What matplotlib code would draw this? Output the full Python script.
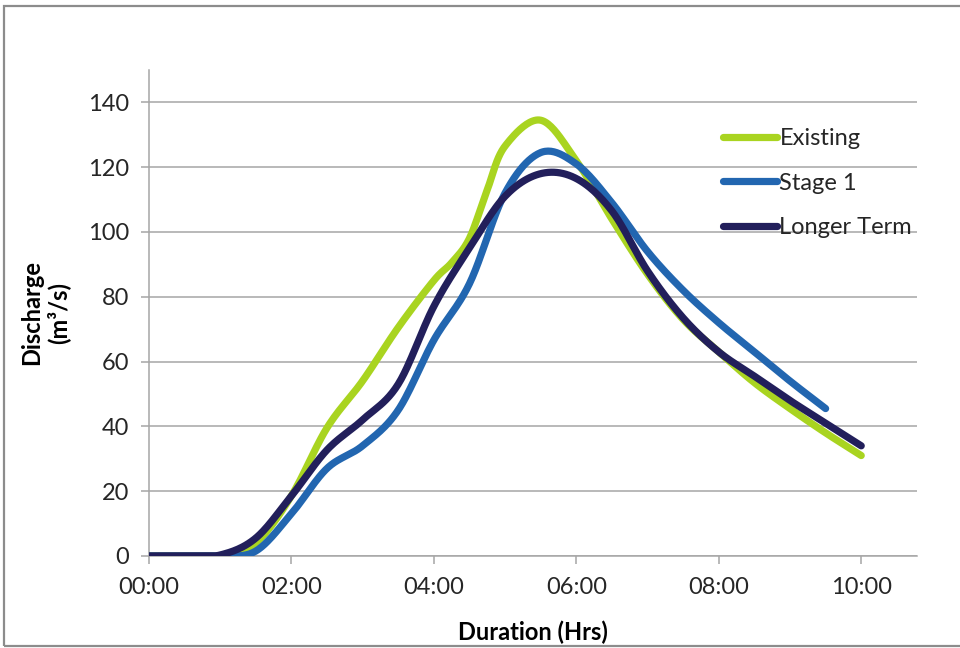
import numpy as np
import matplotlib
matplotlib.use("Agg")
import matplotlib.pyplot as plt
from matplotlib.patches import Rectangle
from matplotlib.ticker import FuncFormatter

# Hydrograph ordinates (time in hours, discharge in m3/s)
existing_t = [0.0, 0.5, 1.0, 1.5, 2.0, 2.5, 3.0, 3.5, 4.0, 4.25, 4.5, 4.75, 5.0,
              5.5, 6.0, 6.5, 7.0, 7.5, 8.0, 8.5, 9.0, 9.5, 10.0]
existing_q = [0, 0, 0, 4, 18.5, 39.5, 54, 70.5, 85, 90.5, 98, 113, 126.5,
              134.5, 122, 104, 87, 73, 63, 53.5, 45.5, 38, 31]

stage1_t = [0.0, 0.5, 1.0, 1.5, 2.0, 2.5, 3.0, 3.5, 4.0, 4.5, 5.0, 5.5, 6.0,
            6.5, 7.0, 7.5, 8.0, 8.5, 9.0, 9.5]
stage1_q = [0, 0, 0, 1.5, 13, 27, 34, 45, 66.6, 84, 112, 124.5, 121,
            109, 94, 82, 72, 63, 54, 45.5]

longer_t = [0.0, 0.5, 1.0, 1.5, 2.0, 2.5, 3.0, 3.5, 4.0, 4.5, 5.0, 5.5, 6.0,
            6.5, 7.0, 7.5, 8.0, 8.5, 9.0, 9.5, 10.0]
longer_q = [0, 0, 0.3, 5.5, 18.5, 32.7, 42, 53, 77, 95, 111, 118, 116.5,
            106.5, 88, 73.5, 63, 55.5, 48, 41, 34]

series_names = ["Existing", "Stage 1", "Longer Term"]
series_colors = ["#A9D420", "#2266B0", "#221F5B"]

y_ticks = [0, 20, 40, 60, 80, 100, 120, 140]
x_ticks = [0, 2, 4, 6, 8, 10]


def smooth(t, q, n=24):
    """Catmull-Rom smoothing through the points (like a smoothed line)."""
    p = np.column_stack([t, q]).astype(float)
    p = np.vstack([2 * p[0] - p[1], p, 2 * p[-1] - p[-2]])
    out = []
    s = np.linspace(0, 1, n, endpoint=False)[:, None]
    for i in range(1, len(p) - 2):
        p0, p1, p2, p3 = p[i - 1], p[i], p[i + 1], p[i + 2]
        seg = 0.5 * ((2 * p1) + (-p0 + p2) * s
                     + (2 * p0 - 5 * p1 + 4 * p2 - p3) * s ** 2
                     + (-p0 + 3 * p1 - 3 * p2 + p3) * s ** 3)
        out.append(seg)
    out.append(p[-2][None, :])
    out = np.vstack(out)
    out[:, 1] = np.clip(out[:, 1], 0, None)
    return out[:, 0], out[:, 1]


plt.rcParams["font.family"] = ["Lato", "DejaVu Sans"]

fig = plt.figure(figsize=(9.6, 6.48), dpi=100)
ax = fig.add_axes([0.155, 0.142, 0.80, 0.750])

data = [(existing_t, existing_q), (stage1_t, stage1_q), (longer_t, longer_q)]
for (t, q), name, col in zip(data, series_names, series_colors):
    xs, ys = smooth(t, q)
    ax.plot(xs, ys, color=col, lw=5.2, solid_capstyle="round",
            solid_joinstyle="round", label=name, zorder=3)

ax.set_xlim(0, 10.78)
ax.set_ylim(0, 150)
ax.set_yticks(y_ticks)
ax.set_xticks(x_ticks)
ax.xaxis.set_major_formatter(FuncFormatter(lambda v, p: f"{int(v):02d}:00"))

ax.grid(axis="y", color="#A6A6A6", lw=1.1, zorder=0)
ax.grid(axis="x", visible=False)
for side in ("top", "right"):
    ax.spines[side].set_visible(False)
for side in ("left", "bottom"):
    ax.spines[side].set_color("#A6A6A6")
    ax.spines[side].set_linewidth(1.1)

ax.tick_params(axis="both", colors="#A6A6A6", length=6, width=1.1,
               labelcolor="#262626", labelsize=17)
ax.tick_params(axis="x", pad=9)
ax.tick_params(axis="y", pad=8)

ax.set_xlabel("Duration (Hrs)", fontsize=17, fontweight="bold",
              color="#000000", labelpad=16)
ax.set_ylabel("Discharge\n(m\u00b3/s)", fontsize=17, fontweight="bold",
              color="#000000", labelpad=13, linespacing=1.15)

leg = ax.legend(loc="upper left", bbox_to_anchor=(0.735, 0.90),
                frameon=False, fontsize=17, handlelength=2.3,
                handletextpad=0.1, labelspacing=1.0, borderaxespad=0)
for txt in leg.get_texts():
    txt.set_color("#262626")

# Outer frame around the chart
fig.patches.append(Rectangle((4 / 960, 2 / 648), 1.2, (640 / 648),
                             transform=fig.transFigure, fill=False,
                             edgecolor="#8C8C8C", lw=1.6))

fig.savefig("out.png", dpi=100)
